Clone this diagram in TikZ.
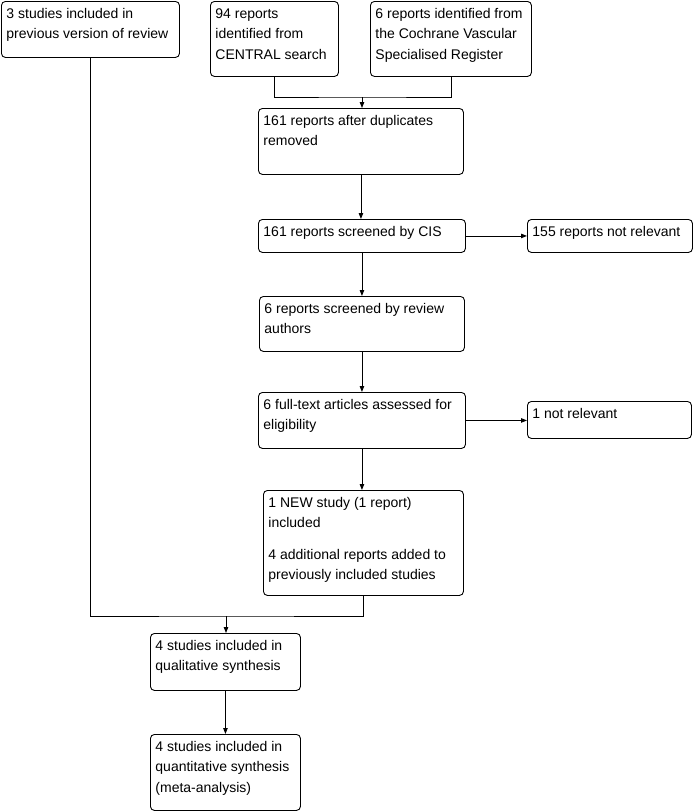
\documentclass[tikz,border=0pt]{standalone}
\usepackage{fontspec}
\setmainfont{Liberation Sans}
\usetikzlibrary{arrows.meta}
\newcommand{\bxt}[3]{\begin{minipage}[t][#2][t]{#1}\fontsize{14pt}{20.5pt}\selectfont\raggedright\rule{0pt}{17pt}#3\end{minipage}}
\begin{document}
\begin{tikzpicture}[x=1pt,y=-1pt,
  box/.style={draw, line width=0.9pt, rounded corners=4pt, anchor=north west, inner xsep=5pt, inner ysep=0pt},
  arr/.style={-{Triangle[length=6pt,width=4.5pt]}, line width=0.9pt},
  ln/.style={line width=0.9pt}]
\useasboundingbox (0,0) rectangle (694,811);
\node[box] (A) at (1,1) {\bxt{168pt}{56pt}{3 studies included in\\previous version of review}};
\node[box] (B) at (210,1) {\bxt{118pt}{75pt}{94 reports\\identified from\\CENTRAL search}};
\node[box] (C) at (370,1) {\bxt{151pt}{75pt}{6 reports identified from\\the Cochrane Vascular\\Specialised Register}};
\node[box] (D) at (258,108) {\bxt{195pt}{66pt}{161 reports after duplicates\\removed}};
\node[box] (E) at (258,219) {\bxt{197pt}{33pt}{161 reports screened by CIS}};
\node[box] (F) at (527,219) {\bxt{155pt}{33pt}{155 reports not relevant}};
\node[box] (G) at (259,296) {\bxt{195pt}{55pt}{6 reports screened by review\\authors}};
\node[box] (H) at (258,392) {\bxt{197pt}{56pt}{6 full-text articles assessed for\\eligibility}};
\node[box] (I) at (527,401) {\bxt{154pt}{37pt}{1 not relevant}};
\node[box] (J) at (263,490) {\bxt{190pt}{105pt}{1 NEW study (1 report)\\included\\[11pt]4 additional reports added to\\previously included studies}};
\node[box] (K) at (150,633) {\bxt{140pt}{57pt}{4 studies included in\\qualitative synthesis}};
\node[box] (L) at (150,734) {\bxt{140pt}{76pt}{4 studies included in\\quantitative synthesis\\(meta-analysis)}};
\coordinate (m1) at (362,97);
\coordinate (m2) at (226,616);
\draw[ln] (B.south) |- (m1) -| (C.south);
\draw[arr] (m1) -- (m1 |- D.north);
\draw[arr] (D.south) -- (D.south |- E.north);
\draw[arr] (E.east) -- (E.east -| F.west);
\draw[arr] (E.south) -- (E.south |- G.north);
\draw[arr] (G.south) -- (G.south |- H.north);
\draw[arr] (H.east) -- (H.east -| I.west);
\draw[arr] (H.south) -- (H.south |- J.north);
\draw[ln] (A.south) |- (m2) -| (J.south);
\draw[arr] (m2) -- (m2 |- K.north);
\draw[arr] (K.south) -- (K.south |- L.north);
\end{tikzpicture}
\end{document}
